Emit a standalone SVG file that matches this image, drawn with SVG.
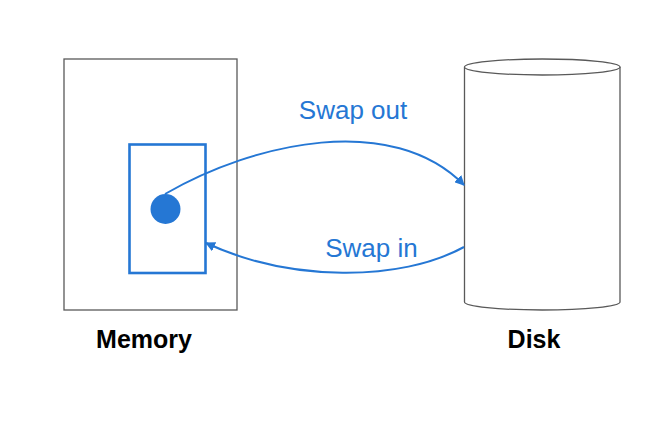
<svg xmlns="http://www.w3.org/2000/svg" width="666" height="428" viewBox="0 0 666 428">
<style>
.box{fill:#fff;stroke:#595959;stroke-width:1.3}
.blue{stroke:#2577d4;fill:none}
.lbl{font-family:"Liberation Sans",Arial,sans-serif;font-size:26px;fill:#2577d4}
.title{font-family:"Liberation Sans",Arial,sans-serif;font-size:25px;font-weight:bold;fill:#000}
</style>
<defs>
<marker id="ah" viewBox="0 0 10 10" refX="9" refY="5" markerWidth="10" markerHeight="10" markerUnits="userSpaceOnUse" orient="auto">
<path d="M0,0 L10,5 L0,10 Z" fill="#2577d4"/>
</marker>
</defs>
<rect width="666" height="428" fill="#fff"/>
<g id="memory">
<rect class="box" x="64" y="59" width="173" height="251"/>
<rect class="blue" x="129.5" y="144.5" width="76" height="128.5" stroke-width="2.6"/>
<circle cx="165.5" cy="209" r="15" fill="#2577d4"/>
<text class="title" x="144" y="348" text-anchor="middle">Memory</text>
</g>
<g id="disk">
<path class="box" d="M464.5,67 L464.5,302 A77.75,8 0 0 0 620,302 L620,67"/>
<ellipse class="box" cx="542.25" cy="67" rx="77.75" ry="8"/>
<text class="title" x="534" y="348" text-anchor="middle">Disk</text>
</g>
<g id="connectors">
<path class="blue" stroke-width="2" d="M165,194 C255,142 392,112 464,185" marker-end="url(#ah)"/>
<path class="blue" stroke-width="2" d="M464,247 C400,282 290,282 206,243" marker-end="url(#ah)"/>
<text class="lbl" x="353" y="119" text-anchor="middle">Swap out</text>
<text class="lbl" x="371.5" y="257" text-anchor="middle">Swap in</text>
</g>
</svg>
